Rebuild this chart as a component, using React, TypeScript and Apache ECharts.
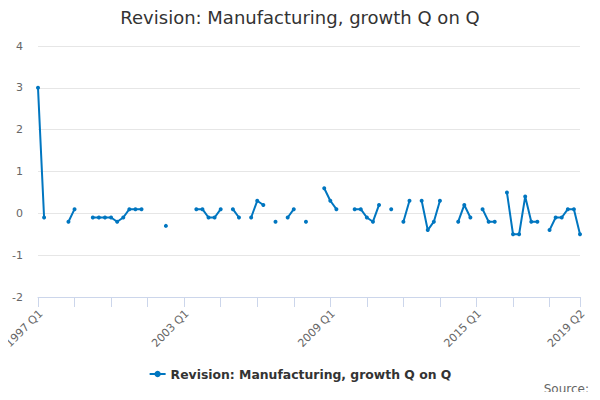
import React, { useEffect, useRef } from "react";
import * as echarts from "echarts";

const startYear = 1997;
const quarters: string[] = [];
for (let y = startYear; y <= 2019; y++) {
  for (let q = 1; q <= 4; q++) {
    if (y === 2019 && q > 2) break;
    quarters.push(`${y} Q${q}`);
  }
}

const revision: (number | null)[] = [
  3.0, -0.1, null, null, null, -0.2, 0.1, null, null, -0.1,
  -0.1, -0.1, -0.1, -0.2, -0.1, 0.1, 0.1, 0.1, null, null,
  null, -0.3, null, null, null, null, 0.1, 0.1, -0.1, -0.1,
  0.1, null, 0.1, -0.1, null, -0.1, 0.3, 0.2, null, -0.2,
  null, -0.1, 0.1, null, -0.2, null, null, 0.6, 0.3, 0.1,
  null, null, 0.1, 0.1, -0.1, -0.2, 0.2, null, 0.1, null,
  -0.2, 0.3, null, 0.3, -0.4, -0.2, 0.3, null, null, -0.2,
  0.2, -0.1, null, 0.1, -0.2, -0.2, null, 0.5, -0.5, -0.5,
  0.4, -0.2, -0.2, null, -0.4, -0.1, -0.1, 0.1, 0.1, -0.5,
];

const yTicks = [-2, -1, 0, 1, 2, 3, 4];
const seriesName = "Revision: Manufacturing, growth Q on Q";
const titleText = "Revision: Manufacturing, growth Q on Q";

export default function App() {
  const ref = useRef<HTMLDivElement>(null);
  useEffect(() => {
    if (!ref.current) return;
    const chart = echarts.init(ref.current, undefined, { renderer: "svg" });
    const last = quarters.length - 1;
    chart.setOption({
      animation: false,
      textStyle: { fontFamily: "DejaVu Sans" },
      title: {
        text: titleText,
        left: "center",
        top: 3,
        textStyle: { fontSize: 18, fontWeight: "normal", color: "#333333", fontFamily: "DejaVu Sans" },
      },
      grid: { left: 38, right: 20, top: 46, bottom: 103, containLabel: false },
      xAxis: {
        type: "category",
        data: quarters,
        boundaryGap: false,
        axisLine: { show: true, onZero: false, lineStyle: { color: "#ccd6eb", width: 1 } },
        axisTick: {
          show: true,
          length: 10,
          lineStyle: { color: "#ccd6eb", width: 1 },
          interval: (i: number) => i % 6 === 0 || i === last,
        },
        axisLabel: { show: false },
        splitLine: { show: false },
      },
      yAxis: {
        type: "value",
        min: yTicks[0],
        max: yTicks[yTicks.length - 1],
        interval: 1,
        axisLine: { show: false },
        axisTick: { show: false },
        axisLabel: { color: "#666666", fontSize: 11, margin: 15 },
        splitLine: { lineStyle: { color: "#e6e6e6" } },
      },
      legend: {
        bottom: 15,
        left: "center",
        itemWidth: 16,
        itemHeight: 8,
        itemGap: 5,
        textStyle: { fontSize: 12.4, fontWeight: "bold", color: "#333333" },
        data: [seriesName],
      },
      series: [
        {
          name: seriesName,
          type: "line",
          data: revision,
          connectNulls: false,
          showSymbol: true,
          showAllSymbol: true,
          symbol: "circle",
          symbolSize: 4,
          itemStyle: { color: "#0076c0" },
          lineStyle: { width: 2, color: "#0076c0" },
        },
      ],
    });
    const labelIdx = quarters.map((_, i) => i).filter((i) => i % 24 === 0 || i === last);
    const yBottom = yTicks[0];
    const labels = labelIdx.map((i) => {
      const [px, py] = chart.convertToPixel({ gridIndex: 0 }, [i, yBottom]) as number[];
      return {
        type: "text",
        x: px - 1,
        y: py + 11,
        rotation: Math.PI / 4,
        style: {
          text: quarters[i],
          fill: "#666666",
          fontSize: 11,
          fontFamily: "DejaVu Sans",
          align: "right",
          verticalAlign: "top",
        },
      };
    });
    chart.setOption({
      graphic: [
        ...labels,
        {
          type: "text",
          right: 11,
          top: 383,
          style: { text: "Source:", fill: "#666666", fontSize: 12, fontFamily: "DejaVu Sans" },
        },
      ],
    });
    return () => chart.dispose();
  }, []);
  return <div ref={ref} style={{ width: 600, height: 400, margin: -8 }} />;
}
